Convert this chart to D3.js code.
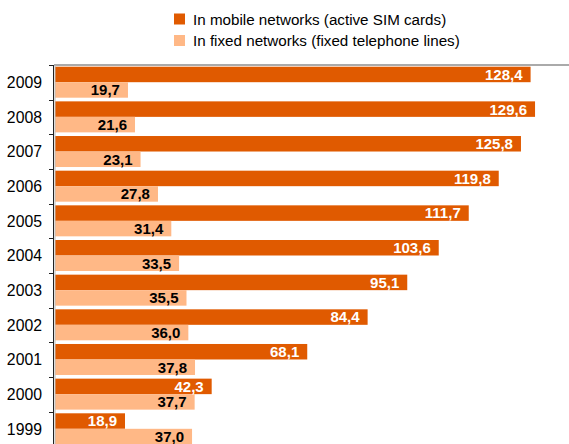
<!DOCTYPE html>
<html>
<head>
<meta charset="utf-8">
<script src="https://cdn.jsdelivr.net/npm/d3@7"></script>
<style>
  body { margin: 0; background: #fff; }
  text { font-family: "Liberation Sans", Arial, sans-serif; }
</style>
</head>
<body>
<div id="chart"></div>
<script>
const years = ['2009', '2008', '2007', '2006', '2005', '2004', '2003', '2002', '2001', '2000', '1999'];
const mobile = [128.4, 129.6, 125.8, 119.8, 111.7, 103.6, 95.1, 84.4, 68.1, 42.3, 18.9];
const fixed = [19.7, 21.6, 23.1, 27.8, 31.4, 33.5, 35.5, 36.0, 37.8, 37.7, 37.0];
const seriesNames = ['In mobile networks (active SIM cards)', 'In fixed networks (fixed telephone lines)'];
const colors = ['#e05a00', '#ffb886'];

const width = 569, height = 444;
const axisX = 54;
const plotTop = 65;
const bandH = 34.66;

const svg = d3.select('#chart')
  .append('svg')
  .attr('width', width)
  .attr('height', height);

const rows = years.map((y, i) => ({ year: y, values: [mobile[i], fixed[i]] }));

const x = d3.scaleLinear().domain([0, 140]).range([55, 55 + 3.704 * 140]);
const y = d3.scaleBand().domain(years).range([plotTop, plotTop + bandH * years.length]).padding(0);
const sub = d3.scaleBand().domain([0, 1]).range([1.7, 32.7]).padding(0);

// top gray line
svg.append('line')
  .attr('x1', axisX).attr('x2', width)
  .attr('y1', plotTop).attr('y2', plotTop)
  .attr('stroke', '#aaa').attr('stroke-width', 2);

const groups = svg.selectAll('g.year')
  .data(rows)
  .join('g')
  .attr('class', 'year')
  .attr('transform', d => 'translate(0,' + y(d.year) + ')');

groups.selectAll('rect')
  .data(d => d.values)
  .join('rect')
  .attr('x', x(0))
  .attr('y', (d, i) => sub(i))
  .attr('width', d => x(d) - x(0))
  .attr('height', sub.bandwidth())
  .attr('fill', (d, i) => colors[i]);

const fmt = v => d3.format('.1f')(v).replace('.', ',');

groups.selectAll('text.val')
  .data(d => d.values)
  .join('text')
  .attr('class', 'val')
  .attr('x', d => x(d) - 8)
  .attr('y', (d, i) => sub(i) + sub.bandwidth() / 2)
  .attr('dy', '0.36em')
  .attr('text-anchor', 'end')
  .attr('font-size', 15)
  .attr('font-weight', 'bold')
  .attr('fill', (d, i) => i === 0 ? '#fff' : '#000')
  .text(fmt);

// axis
svg.append('line')
  .attr('x1', axisX + 1).attr('x2', axisX + 1)
  .attr('y1', plotTop).attr('y2', height)
  .attr('stroke', '#bbb').attr('stroke-width', 1);
svg.append('line')
  .attr('x1', axisX - 0.5).attr('x2', axisX - 0.5)
  .attr('y1', plotTop).attr('y2', height)
  .attr('stroke', '#222').attr('stroke-width', 1);

svg.selectAll('line.tick')
  .data(years)
  .join('line')
  .attr('class', 'tick')
  .attr('x1', axisX - 5).attr('x2', axisX)
  .attr('y1', d => Math.round(y(d)) + 0.5)
  .attr('y2', d => Math.round(y(d)) + 0.5)
  .attr('stroke', '#222');

svg.selectAll('text.yr')
  .data(years)
  .join('text')
  .attr('class', 'yr')
  .attr('x', axisX - 12)
  .attr('y', d => y(d) + y.bandwidth() / 2)
  .attr('dy', '0.36em')
  .attr('text-anchor', 'end')
  .attr('font-size', 15.8)
  .attr('fill', '#000')
  .text(d => d);

// legend
const legend = svg.selectAll('g.legend')
  .data(seriesNames)
  .join('g')
  .attr('class', 'legend')
  .attr('transform', (d, i) => 'translate(174,' + (13.5 + i * 21.5) + ')');

legend.append('rect')
  .attr('width', 11).attr('height', 11)
  .attr('fill', (d, i) => colors[i]);

legend.append('text')
  .attr('x', 19)
  .attr('y', 11)
  .attr('font-size', 15.2)
  .attr('fill', '#000')
  .text(d => d);
</script>
</body>
</html>
